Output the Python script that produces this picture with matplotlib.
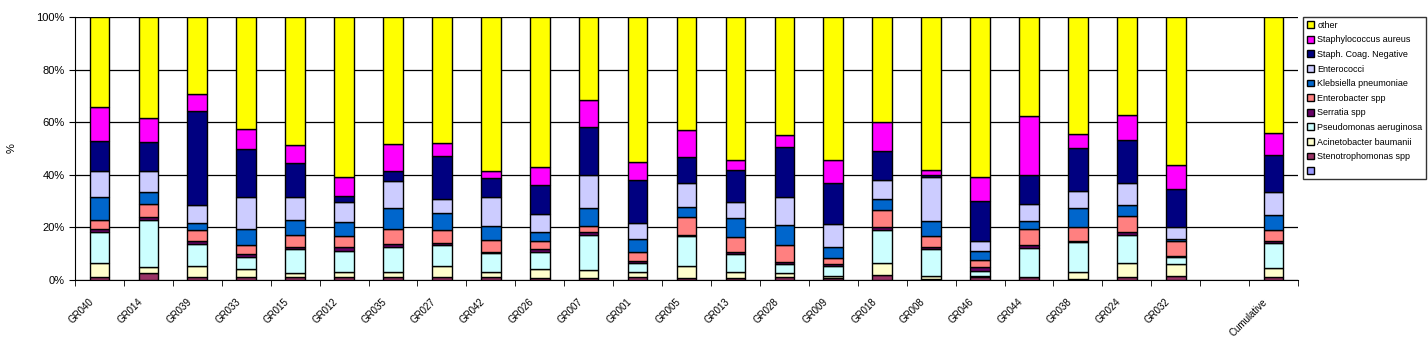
import matplotlib.pyplot as plt
import matplotlib.transforms as mtransforms
import numpy as np

plt.rcParams['font.family'] = ['Liberation Sans', 'DejaVu Sans']

groups = ["GR040", "GR014", "GR039", "GR033", "GR015", "GR012", "GR035", "GR027",
          "GR042", "GR026", "GR007", "GR001", "GR005", "GR013", "GR028", "GR009",
          "GR018", "GR008", "GR046", "GR044", "GR038", "GR024", "GR032", "",
          "Cumulative"]

# series values in percent, bottom of stack first
blank = [0] * 25
steno = [1.3, 2.5, 1.3, 1.0, 1.0, 1.0, 1.0, 1.0, 1.0, 0.6, 0.6, 1.0, 0.6, 0.6, 1.3, 0.6,
         1.9, 0.3, 1.0, 1.0, 0.3, 1.0, 1.4, 0, 1.0]
acine = [5.1, 2.6, 4.2, 3.2, 1.5, 2.2, 1.9, 4.5, 2.2, 3.6, 3.2, 1.9, 4.9, 2.6, 1.4, 0.8,
         4.6, 1.1, 0.7, 0.3, 2.6, 5.4, 4.5, 0, 3.5]
pseudo = [11.8, 17.8, 8.2, 4.7, 9.3, 8.0, 9.8, 7.9, 7.0, 6.6, 13.4, 3.6, 11.2, 6.7, 3.2, 4.1,
          12.7, 10.2, 1.6, 10.8, 11.5, 10.8, 2.8, 0, 9.5]
serr = [1.3, 1.0, 1.3, 1.0, 0.9, 1.3, 1.0, 0.7, 0.5, 0.9, 1.2, 0.6, 0.6, 0.7, 0.8, 0.4,
        0.9, 0.9, 1.5, 1.3, 0.4, 1.2, 0.6, 0, 1.0]
enterob = [3.4, 5.1, 4.2, 3.5, 4.5, 4.4, 5.8, 5.0, 4.6, 3.1, 2.3, 3.5, 6.6, 5.7, 6.7, 2.4,
           6.7, 4.1, 2.8, 6.1, 5.2, 5.9, 5.7, 0, 4.2]
kleb = [8.7, 4.5, 2.4, 6.1, 5.8, 5.0, 7.7, 6.3, 5.4, 3.4, 6.5, 4.8, 3.8, 7.1, 7.7, 4.2,
        3.9, 6.0, 3.3, 3.1, 7.2, 4.1, 0.6, 0, 5.4]
enteroc = [9.7, 8.1, 7.0, 11.9, 8.4, 7.7, 10.5, 5.3, 10.7, 7.0, 12.6, 6.2, 9.2, 6.2, 10.5, 8.7,
           7.2, 16.6, 4.1, 6.4, 6.7, 8.6, 4.5, 0, 8.9]
scn = [11.6, 10.7, 35.6, 18.6, 12.9, 2.2, 3.6, 16.4, 7.4, 11.1, 18.5, 16.6, 9.9, 12.1, 18.8, 15.7,
       11.1, 0.9, 14.9, 10.8, 16.4, 16.4, 14.4, 0, 14.2]
saur = [13.0, 9.2, 6.7, 7.6, 7.2, 7.4, 10.4, 5.1, 2.8, 6.7, 10.1, 6.5, 10.2, 4.1, 4.9, 8.6,
        10.9, 1.9, 9.3, 22.5, 5.2, 9.3, 9.1, 0, 8.3]
other = [34.1, 38.5, 29.1, 42.4, 48.5, 60.8, 48.3, 47.8, 58.4, 57.0, 31.6, 55.3, 43.0, 54.2, 44.7, 54.5,
         40.1, 58.0, 60.8, 37.7, 44.5, 37.3, 56.4, 0, 44.0]

series = [
    ("", blank, "#9999FF"),
    ("Stenotrophomonas spp", steno, "#993366"),
    ("Acinetobacter baumanii", acine, "#FFFFCC"),
    ("Pseudomonas aeruginosa", pseudo, "#CCFFFF"),
    ("Serratia spp", serr, "#660066"),
    ("Enterobacter spp", enterob, "#FF8080"),
    ("Klebsiella pneumoniae", kleb, "#0066CC"),
    ("Enterococci", enteroc, "#CCCCFF"),
    ("Staph. Coag. Negative", scn, "#000080"),
    ("Staphylococcus aureus", saur, "#FF00FF"),
    ("other", other, "#FFFF00"),
]

fig = plt.figure(figsize=(14.28, 3.5), dpi=100)
ax = fig.add_axes([0.0525, 0.2, 0.8565, 0.7514])

x = np.arange(len(groups))
bottom = np.zeros(len(groups))
handles = []
for name, vals, col in series:
    vals = np.array(vals, dtype=float)
    show = np.array([g != "" for g in groups])
    b = ax.bar(x[show], vals[show], 0.4, bottom=bottom[show], color=col,
               edgecolor="black", linewidth=1.0, label=name, zorder=3)
    handles.append(b)
    bottom += vals

ax.set_xlim(-0.5, len(groups) - 0.5)
ax.set_ylim(0, 100)
ax.set_yticks(np.arange(0, 101, 20))
ax.set_yticklabels([f"{v}%" for v in range(0, 101, 20)], fontsize=8)
ax.yaxis.grid(True, color="black", linewidth=0.9, zorder=0)
ax.set_ylabel("%", fontsize=8, labelpad=14)

ax.set_xticks(x)
ax.set_xticklabels(groups, rotation=45, ha="right", va="top", fontsize=7)
ax.set_xticks(np.arange(-0.5, len(groups), 1), minor=True)
ax.tick_params(axis="x", which="major", length=0, pad=12)
ax.tick_params(axis="x", which="minor", length=4, direction="out")
ax.tick_params(axis="y", length=4, direction="out")
off = mtransforms.ScaledTranslation(-0.04, 0, fig.dpi_scale_trans)
for lab in ax.get_xticklabels():
    lab.set_transform(lab.get_transform() + off)

for s in ["top", "right"]:
    ax.spines[s].set_visible(False)

leg = fig.legend(handles[::-1], [s[0] for s in series][::-1], loc="upper left",
                 bbox_to_anchor=(0.9125, 0.951), fontsize=6.5, frameon=True,
                 fancybox=False, edgecolor="black", handlelength=0.8,
                 handleheight=0.8, handletextpad=0.4, labelspacing=0.62,
                 borderpad=0.4, borderaxespad=0)
leg.get_frame().set_linewidth(1.0)

plt.savefig("out.png", dpi=100)
